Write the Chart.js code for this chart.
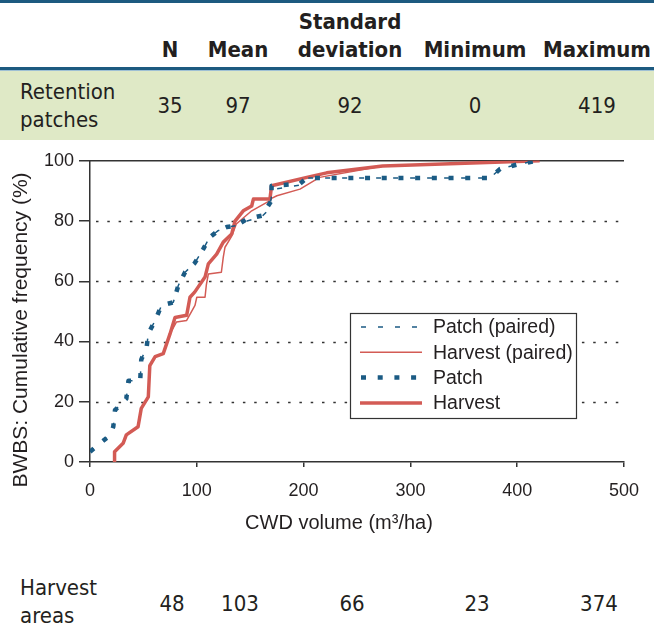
<!DOCTYPE html>
<html>
<head>
<meta charset="utf-8">
<script src="https://cdn.jsdelivr.net/npm/chart.js@4/dist/chart.umd.min.js"></script>
<style>
  html, body { margin: 0; padding: 0; background: #fff; }
  body { width: 654px; height: 633px; position: relative; overflow: hidden;
         font-family: "DejaVu Sans Condensed", "Liberation Sans Narrow", "DejaVu Sans", sans-serif; color: #231f20; }
  .rule-top { position: absolute; left: 0; top: 0; width: 654px; height: 3px; background: #1d5a80; }
  .rule-mid { position: absolute; left: 0; top: 67px; width: 654px; height: 3px; background: #1d5a80; border-bottom: 1px solid #9fc0d4; }
  .band { position: absolute; left: 0; top: 71px; width: 654px; height: 69px; background: #dfe9c6; }
  .t { position: absolute; white-space: nowrap; line-height: 28px; font-size: 22px; }
  .c { transform: translateX(-50%); }
  .h { font-weight: bold; }
  #wrap { position: absolute; left: 0; top: 145px; width: 654px; height: 400px; }
</style>
</head>
<body>
<div class="rule-top"></div>
<div class="rule-mid"></div>
<div class="band"></div>
<div id="table"></div>
<div id="wrap"><canvas id="cdf"></canvas></div>
<script>
// Summary table
const columns = ["N", "Mean", "Standard\ndeviation", "Minimum", "Maximum"];
const patchStats = ["35", "97", "92", "0", "419"];
const harvestStats = ["48", "103", "66", "23", "374"];
const rowLabels = ["Retention\npatches", "Harvest\nareas"];

// CWD volume (m3/ha) vs cumulative frequency (%)
const patchPairedX = [0, 18.7, 21.8, 23.4, 34, 36, 47, 48, 53, 54.6, 61, 67, 78, 82.7, 89, 98, 106, 112, 120, 128, 137, 147, 161, 168, 171, 198, 205, 374.5, 384, 402.6, 419];
const patchPairedY = [3.4, 8.9, 11.7, 17.2, 21, 27, 27, 34, 38, 42.6, 47, 52, 53, 58.6, 63, 66, 70.7, 74.6, 76.8, 78, 78.5, 80, 81.5, 84, 90.5, 92, 94.3, 94.3, 97.3, 99, 100];
const harvestPairedX = [23, 23, 31, 34, 45, 48, 54.6, 56, 61, 68.6, 75, 81, 90.5, 93.6, 98.3, 100, 107.7, 109, 110.8, 123, 124.8, 126.4, 132.7, 137, 143.5, 151.4, 168.5, 170, 175, 196.6, 215, 274, 421];
const harvestPairedY = [0, 3.4, 6.2, 9, 11.7, 17.8, 21.6, 32, 35, 36, 42.6, 46.5, 47, 49, 52, 54.7, 54.7, 59, 62.4, 63, 68, 71.3, 75, 79, 81, 83.4, 86.8, 87.5, 88.4, 90.6, 94.5, 98.3, 100];
const patchX = [0, 18.7, 21.8, 23.4, 34, 36, 47, 48, 53, 54.6, 61, 67, 78, 82.7, 89, 98, 106, 112, 120, 128, 137, 147, 161, 170, 170, 196.6, 203, 374.5, 384, 402.6, 419];
const patchY = [3.4, 8.9, 11.7, 17.2, 21, 27, 27, 34, 38, 42.6, 47, 52, 53, 58.6, 63, 66, 70.7, 74.6, 76.8, 78, 78.5, 80.7, 81.8, 86.8, 91.7, 92.4, 94.3, 94.3, 97.3, 99, 100];
const harvestX = [23, 23, 31, 34, 45, 48, 54.6, 56, 61, 68.6, 75, 79.6, 90.5, 93.6, 98, 107.7, 110.8, 118.6, 124.8, 132.7, 135.8, 143.5, 151.4, 153, 168.5, 170, 203, 221.6, 274, 421];
const harvestY = [0, 3.4, 6.2, 9, 11.7, 17.8, 21.6, 32, 35, 36, 42.6, 48, 48.7, 54.7, 56.4, 61.4, 65.8, 69, 73, 75.7, 80, 83.4, 85, 87.3, 87.3, 91.7, 94.5, 96, 98.3, 100];

const xTicks = [0, 100, 200, 300, 400, 500];
const yTicks = [0, 20, 40, 60, 80, 100];
const xTitle = 'CWD volume (m³/ha)';
const yTitle = 'BWBS: Cumulative frequency (%)';

// ---- table text ----
const colX = [170, 238, 350, 475, 597];
const table = document.getElementById('table');
function put(text, x, yCenter, cls) {
  const lines = text.split('\n');
  lines.forEach((ln, i) => {
    const d = document.createElement('div');
    d.className = 't ' + cls;
    d.textContent = ln;
    d.style.left = x + 'px';
    d.style.top = (yCenter - 14 + (i - (lines.length - 1)) * 28) + 'px';
    table.appendChild(d);
  });
}
columns.forEach((c, i) => put(c, colX[i], 50, 'h c'));
function putLabel(text, x, yTop) {
  text.split('\n').forEach((ln, i) => {
    const d = document.createElement('div');
    d.className = 't';
    d.textContent = ln;
    d.style.left = x + 'px';
    d.style.top = (yTop + i * 28) + 'px';
    table.appendChild(d);
  });
}
putLabel(rowLabels[0], 20, 78);
patchStats.forEach((v, i) => put(v, colX[i], 106, 'c'));
putLabel(rowLabels[1], 20, 574);
harvestStats.forEach((v, i) => put(v, colX[i] + 2, 604, 'c'));

// ---- chart ----
const zip = (xs, ys) => xs.map((x, i) => ({ x, y: ys[i] }));
const BLUE = '#1b5b84';
const RED = '#d35b55';
const FONT = "'Liberation Sans', Arial, sans-serif";
const INK = '#231f20';

const series = [
  { label: 'Patch (paired)', data: zip(patchPairedX, patchPairedY), borderColor: BLUE, borderWidth: 1.5, borderDash: [5, 12], order: 2 },
  { label: 'Harvest (paired)', data: zip(harvestPairedX, harvestPairedY), borderColor: RED, borderWidth: 1.5, borderDash: [], order: 3 },
  { label: 'Patch', data: zip(patchX, patchY), borderColor: BLUE, borderWidth: 4.5, borderDash: [5, 11.7], order: 1 },
  { label: 'Harvest', data: zip(harvestX, harvestY), borderColor: RED, borderWidth: 3.5, borderDash: [], order: 4 }
];

const boxLegend = {
  id: 'boxLegend',
  afterDraw(chart) {
    const ctx = chart.ctx;
    const L = 350, T = 168, W = 226, H = 105;
    ctx.save();
    ctx.fillStyle = '#fff';
    ctx.fillRect(L, T, W, H);
    ctx.strokeStyle = '#333';
    ctx.lineWidth = 1.2;
    ctx.strokeRect(L + 0.5, T + 0.5, W, H);
    ctx.font = '19.5px ' + FONT;
    ctx.textBaseline = 'middle';
    ctx.fillStyle = INK;
    chart.data.datasets.forEach((ds, i) => {
      const y = T + 14 + i * 25.3;
      ctx.beginPath();
      ctx.strokeStyle = ds.borderColor;
      ctx.lineWidth = ds.borderWidth;
      ctx.setLineDash(ds.borderDash);
      ctx.lineDashOffset = ds.borderDash.length ? -1 : 0;
      ctx.moveTo(L + 10, y);
      ctx.lineTo(L + 72, y);
      ctx.stroke();
      ctx.setLineDash([]);
      ctx.fillText(ds.label, L + 83, y + 1);
    });
    ctx.restore();
  }
};

// axis titles
const axisTitles = {
  id: 'axisTitles',
  afterDraw(chart) {
    const ctx = chart.ctx;
    ctx.save();
    ctx.fillStyle = INK;
    ctx.textAlign = 'center';
    ctx.textBaseline = 'middle';
    ctx.font = '20px ' + FONT;
    ctx.fillText(xTitle, 339, 378);
    ctx.translate(21, 185);
    ctx.rotate(-Math.PI / 2);
    ctx.font = '21px ' + FONT;
    ctx.fillText(yTitle, 0, 0);
    ctx.restore();
  }
};

// dotted grid at inner ticks, solid frame line along the top
const gridLines = {
  id: 'gridLines',
  beforeDatasetsDraw(chart) {
    const { ctx, chartArea: a, scales: { y } } = chart;
    ctx.save();
    ctx.strokeStyle = '#333';
    ctx.lineWidth = 1.6;
    ctx.setLineDash([2.5, 8.8]);
    yTicks.filter(v => v > 0 && v < 100).forEach(v => {
      const py = Math.round(y.getPixelForValue(v)) + 0.5;
      ctx.beginPath();
      ctx.moveTo(a.left + 6, py);
      ctx.lineTo(a.right, py);
      ctx.stroke();
    });
    ctx.setLineDash([]);
    ctx.lineWidth = 1.5;
    const top = y.getPixelForValue(100);
    ctx.beginPath();
    ctx.moveTo(a.left, top);
    ctx.lineTo(a.right, top);
    ctx.stroke();
    ctx.restore();
  }
};

new Chart(document.getElementById('cdf'), {
  type: 'line',
  data: {
    datasets: series.map(s => ({
      ...s,
      fill: false,
      tension: 0,
      pointRadius: 0,
      borderCapStyle: 'butt',
      borderJoinStyle: 'round'
    }))
  },
  options: {
    responsive: true,
    maintainAspectRatio: false,
    animation: false,
    layout: { padding: { top: 15, right: 30, left: 0, bottom: 0 } },
    plugins: { legend: { display: false }, tooltip: { enabled: false } },
    scales: {
      x: {
        type: 'linear', min: 0, max: 500,
        afterBuildTicks: s => { s.ticks = xTicks.map(v => ({ value: v })); },
        ticks: { color: INK, font: { family: FONT, size: 18 }, padding: 13, maxRotation: 0 },
        grid: { drawOnChartArea: false, tickLength: 5, color: '#333', lineWidth: 1.5 },
        border: { color: '#333', width: 1.5 },
        afterFit: s => { s.height = 83; }
      },
      y: {
        min: 0, max: 100,
        afterBuildTicks: s => { s.ticks = yTicks.map(v => ({ value: v })); },
        ticks: { color: INK, font: { family: FONT, size: 18 }, padding: 5 },
        grid: { drawOnChartArea: false, tickLength: 11, color: '#333', lineWidth: 1.5 },
        border: { color: '#333', width: 1.5 },
        afterFit: s => { s.width = 90; }
      }
    }
  },
  plugins: [gridLines, boxLegend, axisTitles]
});
</script>
</body>
</html>
